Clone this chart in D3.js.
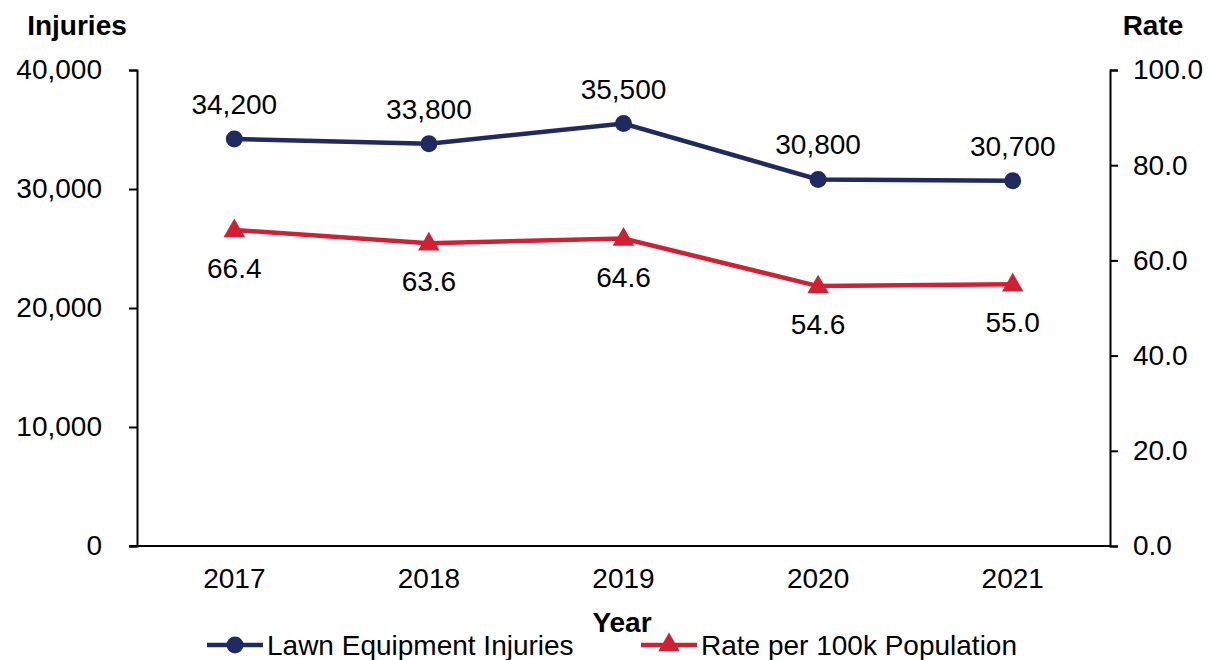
<!DOCTYPE html>
<html>
<head>
<meta charset="utf-8">
<script src="https://cdn.jsdelivr.net/npm/d3@7"></script>
<style>
  body { margin: 0; background: #fff; }
  svg text { font-family: "Liberation Sans", Arial, sans-serif; fill: #000; }
</style>
</head>
<body>
<svg width="1211" height="660"></svg>
<script>
var years = ["2017", "2018", "2019", "2020", "2021"];
var injuries = [34200, 33800, 35500, 30800, 30700];
var rates = [66.4, 63.6, 64.6, 54.6, 55.0];
var injuryTicks = [0, 10000, 20000, 30000, 40000];
var rateTicks = [0, 20, 40, 60, 80, 100];

var svg = d3.select("svg");
var navy = "#1f2a5e", red = "#d11f33";
var fs = 28;
var mLeft = 137, mRight = 1110, mTop = 70, mBottom = 546;

var x = d3.scaleBand().domain(years).range([mLeft, mRight]);
var yL = d3.scaleLinear().domain([0, 40000]).range([mBottom, mTop]);
var yR = d3.scaleLinear().domain([0, 100]).range([mBottom, mTop]);
var fmtI = d3.format(","), fmtR = d3.format(".1f");

// axes
var axL = svg.append("g").attr("transform", "translate(" + mLeft + ",0)")
    .call(d3.axisLeft(yL).tickValues(injuryTicks).tickFormat(fmtI).tickSize(8).tickPadding(27));
var axR = svg.append("g").attr("transform", "translate(" + mRight + ",0)")
    .call(d3.axisRight(yR).tickValues(rateTicks).tickFormat(fmtR).tickSize(8).tickPadding(15));
var axX = svg.append("g").attr("transform", "translate(0," + mBottom + ")")
    .call(d3.axisBottom(x).tickSize(0).tickPadding(22));
[axL, axR, axX].forEach(function (a) {
    a.select(".domain").attr("stroke", "#000").attr("stroke-width", 2);
    a.selectAll(".tick line").attr("stroke", "#000").attr("stroke-width", 2);
    a.selectAll("text").attr("font-size", fs).attr("font-family", "Liberation Sans, Arial, sans-serif");
});
axX.select(".domain").attr("d", "M" + (mLeft - 8) + ",0H" + mRight);

// titles
svg.append("text").attr("x", 77).attr("y", 35).attr("text-anchor", "middle")
    .attr("font-size", fs).attr("font-weight", "bold").text("Injuries");
svg.append("text").attr("x", 1153).attr("y", 35).attr("text-anchor", "middle")
    .attr("font-size", fs).attr("font-weight", "bold").text("Rate");
svg.append("text").attr("x", 622).attr("y", 632).attr("text-anchor", "middle")
    .attr("font-size", fs).attr("font-weight", "bold").text("Year");

var cx = function (d, i) { return x(years[i]) + x.bandwidth() / 2; };

// injuries line
svg.append("path").datum(injuries)
    .attr("fill", "none").attr("stroke", navy).attr("stroke-width", 4.5)
    .attr("d", d3.line().x(cx).y(function (d) { return yL(d); }));
svg.selectAll(".dotI").data(injuries).enter().append("circle")
    .attr("cx", cx).attr("cy", function (d) { return yL(d); })
    .attr("r", 8.5).attr("fill", navy);
svg.selectAll(".labI").data(injuries).enter().append("text")
    .attr("x", cx).attr("y", function (d) { return yL(d) - 25; })
    .attr("text-anchor", "middle").attr("font-size", fs).text(fmtI);

// rate line
var tri = d3.symbol().type(d3.symbolTriangle).size(200);
svg.append("path").datum(rates)
    .attr("fill", "none").attr("stroke", red).attr("stroke-width", 4.5)
    .attr("d", d3.line().x(cx).y(function (d) { return yR(d); }));
svg.selectAll(".dotR").data(rates).enter().append("path")
    .attr("d", tri)
    .attr("transform", function (d, i) { return "translate(" + cx(d, i) + "," + (yR(d) + 1) + ")"; })
    .attr("fill", red);
svg.selectAll(".labR").data(rates).enter().append("text")
    .attr("x", cx).attr("y", function (d) { return yR(d) + 48; })
    .attr("text-anchor", "middle").attr("font-size", fs).text(fmtR);

// legend
var legend = [
    { name: "Lawn Equipment Injuries", color: navy, x0: 207, mark: "circle" },
    { name: "Rate per 100k Population", color: red, x0: 641, mark: "tri" }
];
var ly = 645;
legend.forEach(function (l) {
    svg.append("line").attr("x1", l.x0).attr("x2", l.x0 + 56).attr("y1", ly).attr("y2", ly)
        .attr("stroke", l.color).attr("stroke-width", 4.5);
    if (l.mark == "circle") {
        svg.append("circle").attr("cx", l.x0 + 28).attr("cy", ly).attr("r", 8.5).attr("fill", l.color);
    } else {
        svg.append("path").attr("d", tri).attr("transform", "translate(" + (l.x0 + 28) + "," + ly + ")")
            .attr("fill", l.color);
    }
    svg.append("text").attr("x", l.x0 + 60).attr("y", ly + 10).attr("font-size", fs).text(l.name);
});
</script>
</body>
</html>
